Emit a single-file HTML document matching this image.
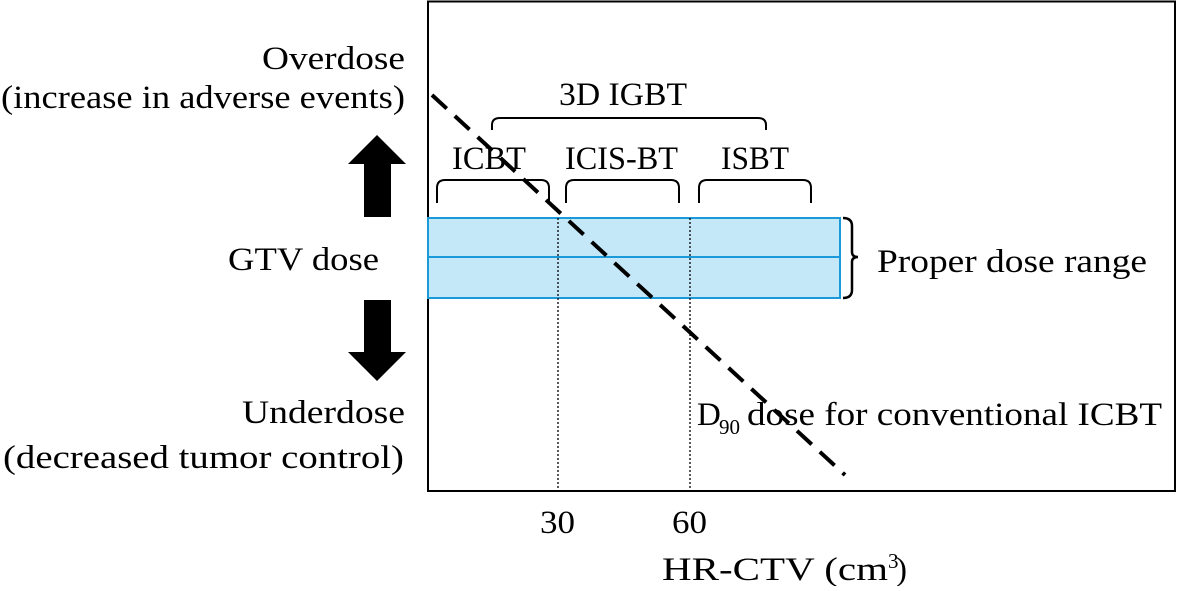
<!DOCTYPE html>
<html><head><style>
body{margin:0;background:#fff;}
svg text{font-family:"Liberation Serif",serif;fill:#000;}
</style></head><body>
<svg width="1177" height="586" viewBox="0 0 1177 586" xmlns="http://www.w3.org/2000/svg">
<rect x="428" y="1.5" width="747" height="489.5" fill="none" stroke="#000" stroke-width="2"/>
<rect x="428" y="218" width="412" height="80" fill="#c5e8f8" stroke="#1a9ad8" stroke-width="2"/>
<line x1="428" y1="257" x2="840" y2="257" stroke="#1a9ad8" stroke-width="2"/>
<line x1="558" y1="218" x2="558" y2="491" stroke="#000" stroke-width="1.3" stroke-dasharray="2,2"/>
<line x1="690" y1="218" x2="690" y2="491" stroke="#000" stroke-width="1.3" stroke-dasharray="2,2"/>
<line x1="432" y1="95" x2="845" y2="475" stroke="#000" stroke-width="4" stroke-dasharray="20,11"/>
<g fill="none" stroke="#000" stroke-width="2">
<path d="M437,203 V188 Q437,180 445,180 H541 Q549,180 549,188 V203"/>
<path d="M566,203 V188 Q566,180 574,180 H671 Q679,180 679,188 V203"/>
<path d="M699,203 V188 Q699,180 707,180 H803 Q811,180 811,188 V203"/>
<path d="M492,130 V125 Q492,118 500,118 H758 Q766,118 766,125 V130"/>
<path d="M843,218 Q852,218 852,226 V252 Q852,257 858,257 Q852,257 852,262 V290 Q852,298 843,298" stroke-width="2.5"/>
</g>
<polygon points="377,135 406,164 391,164 391,217 364,217 364,164 348,164" fill="#000"/>
<polygon points="377,381 406,352 391,352 391,300 364,300 364,352 348,352" fill="#000"/>
<g font-size="33">
<text x="262" y="69" textLength="143" lengthAdjust="spacingAndGlyphs">Overdose</text>
<text x="1" y="108" textLength="404" lengthAdjust="spacingAndGlyphs">(increase in adverse events)</text>
<text x="559" y="105" textLength="128" lengthAdjust="spacingAndGlyphs">3D IGBT</text>
<text x="452" y="169" textLength="74" lengthAdjust="spacingAndGlyphs">ICBT</text>
<text x="565" y="169" textLength="113" lengthAdjust="spacingAndGlyphs">ICIS-BT</text>
<text x="721" y="169" textLength="68" lengthAdjust="spacingAndGlyphs">ISBT</text>
<text x="228" y="270" textLength="151" lengthAdjust="spacingAndGlyphs">GTV dose</text>
<text x="877" y="272" textLength="270" lengthAdjust="spacingAndGlyphs">Proper dose range</text>
<text x="242" y="423" textLength="163" lengthAdjust="spacingAndGlyphs">Underdose</text>
<text x="3" y="468" textLength="401" lengthAdjust="spacingAndGlyphs">(decreased tumor control)</text>
<text x="697" y="425">D</text>
<text x="719" y="434" font-size="21">90</text>
<text x="747" y="425" textLength="415" lengthAdjust="spacingAndGlyphs">dose for conventional ICBT</text>
<text x="540" y="533" textLength="35" lengthAdjust="spacingAndGlyphs">30</text>
<text x="672" y="533" textLength="35" lengthAdjust="spacingAndGlyphs">60</text>
<text x="662" y="580" textLength="226" lengthAdjust="spacingAndGlyphs">HR-CTV (cm</text>
<text x="888" y="568" font-size="21">3</text>
<text x="896" y="580">)</text>
</g>
</svg>
</body></html>
